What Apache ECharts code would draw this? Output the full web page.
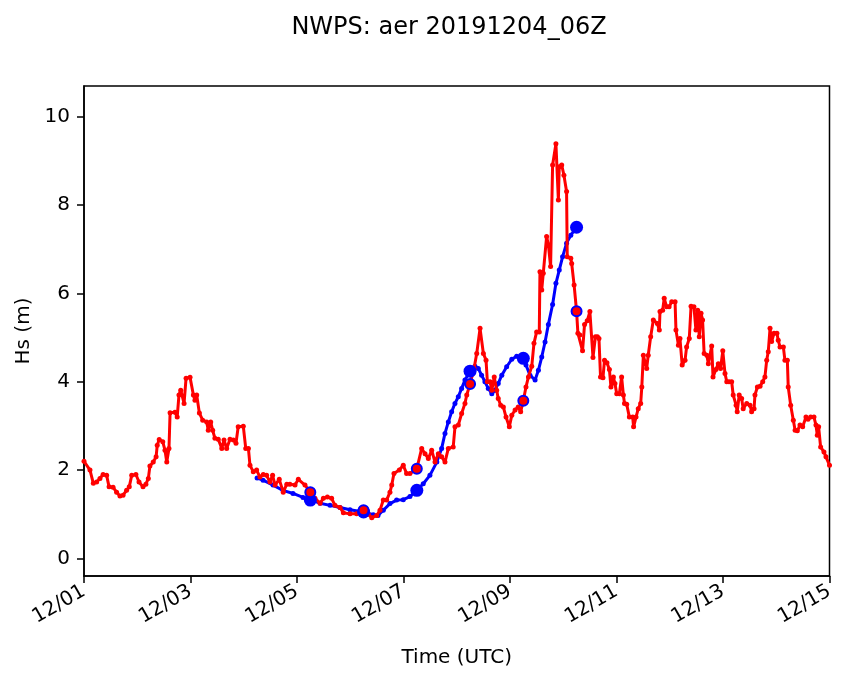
<!DOCTYPE html>
<html>
<head>
<meta charset="utf-8">
<script src="https://cdn.jsdelivr.net/npm/echarts@6/dist/echarts.min.js"></script>
<style>
html,body{margin:0;padding:0;background:#fff;}
#c{width:846px;height:681px;}
</style>
</head>
<body>
<div id="c"></div>
<script>
// Hours after 2019-12-01 00Z
var obsHours = [
0,2.7,4.2,5.7,7.2,8.6,10.2,11.3,13.1,14.7,
16.2,17.6,19.2,20.4,21.5,23.4,24.8,26.6,27.9,29.0,
29.7,31.2,32.5,33.0,33.9,35.5,36.5,37.3,38.3,38.8,
41.0,42.0,42.8,43.6,45.1,46.0,47.8,49.3,50.0,50.8,
52.0,53.5,55.3,56.0,57.1,58.0,59.0,60.5,62.1,63.1,
64.3,65.8,67.3,68.5,69.5,71.8,72.9,74.1,74.8,76.3,
77.8,79.3,80.8,82.3,83.8,85.0,86.1,88.0,89.8,91.4,
92.8,95.1,96.6,
99.6,102,104.1,106.4,107.9,109.7,111.6,113.1,115.4,116.9,
119.9,122.9,126,128.1,129.7,131.9,133.4,134.9,136.4,137.9,
138.7,139.7,142.1,143.9,145.4,146.9,150,152.2,153.7,155.2,
156.7,158.2,159.7,161.2,162.7,164.2,166.4,167.2,168.7,170.2,
171.7,172.5,174,175.8,177.0,178.5,180.0,181.2,181.8,183.0,
183.8,184.9,186.0,186.7,187.8,189.0,190.2,191.7,192.8,194.3,
195.7,196.8,198,199.2,200.3,201.8,202.8,204.0,205.2,205.5,
206.3,207.0,208.5,209.3,210.3,211.2,212.7,213.8,214.2,215.3,
216.3,217.5,217.8,219.4,219.8,220.9,222,
222.6,223.5,224.7,225.6,226.8,228.0,229.4,230.5,231.4,232.1,
232.8,233.9,234.6,235.7,236.8,237.5,238.6,239.3,240.1,241.3,
242.3,243.1,243.6,244.6,245.8,247.3,247.7,248.8,249.8,250.9,
251.4,252.1,253.6,254.3,255.4,256.6,258.4,259.3,259.6,260.8,
261.5,262.6,263.7,264.9,266.4,266.8,267.9,268.6,269.6,270.9,
271.6,272.8,273.6,274.9,275.8,276.6,277.3,278.1,278.8,279.5,
280.7,281.4,282.9,283.5,284.8,285.9,286.9,287.9,288.9,289.7,
290.7,291.9,292.6,293.9,294.4,295.3,296.4,297.1,298.7,300.2,
300.9,302.0,302.4,303.5,304.7,305.9,306.9,307.7,308.4,309.2,
309.9,311.0,312.3,312.9,313.7,315.2,315.9,317.0,317.4,318.5,
319.7,320.5,321.5,322.7,323.9,325.4,326.3,327.5,329.0,329.9,
330.5,331.1,332.0,333.5,334.4,336
];
var obsHs = [
2.20,2.00,1.70,1.73,1.81,1.90,1.88,1.62,1.61,1.50,
1.41,1.43,1.54,1.62,1.88,1.90,1.73,1.62,1.68,1.81,
2.09,2.18,2.30,2.56,2.69,2.64,2.45,2.18,2.49,3.30,
3.31,3.20,3.70,3.81,3.51,4.08,4.10,3.70,3.58,3.70,
3.29,3.13,3.09,2.90,3.09,2.90,2.72,2.70,2.49,2.68,
2.49,2.70,2.68,2.61,2.98,2.99,2.49,2.49,2.11,1.96,
2.00,1.84,1.90,1.88,1.73,1.88,1.66,1.79,1.50,1.68,
1.68,1.66,1.79,
1.66,1.50,1.36,1.25,1.36,1.39,1.36,1.20,1.15,1.03,
1.01,1.01,1.09,1.00,0.92,0.97,1.09,1.32,1.32,1.50,
1.66,1.92,2.00,2.11,1.92,1.92,2.03,2.49,2.37,2.26,
2.45,2.18,2.37,2.30,2.18,2.49,2.52,2.98,3.02,3.28,
3.51,3.70,3.95,4.30,4.64,5.21,4.64,4.49,4.00,4.00,
3.81,4.11,3.81,3.62,3.47,3.43,3.20,2.98,3.24,3.36,
3.43,3.32,3.57,3.88,4.11,4.35,4.87,5.13,5.13,6.49,
6.08,6.46,7.29,7.10,6.61,8.91,9.39,8.12,8.87,8.91,
8.68,8.31,6.83,6.80,6.68,6.19,5.60,
5.10,5.06,4.70,5.30,5.38,5.59,4.55,5.02,5.02,4.98,
4.11,4.09,4.49,4.43,4.28,3.88,4.11,3.96,3.73,3.73,
4.11,3.70,3.51,3.49,3.20,3.20,2.98,3.20,3.39,3.51,
3.88,4.60,4.30,4.60,5.02,5.40,5.32,5.17,5.59,5.62,
5.89,5.70,5.70,5.81,5.81,5.17,4.83,4.98,4.38,4.49,
4.79,4.98,5.71,5.70,5.17,5.62,5.02,5.55,5.40,4.64,
4.60,4.41,4.81,4.11,4.28,4.41,4.30,4.70,4.19,4.00,
4.00,4.00,3.70,3.47,3.32,3.70,3.62,3.39,3.51,3.47,
3.32,3.39,3.70,3.88,3.90,4.00,4.11,4.49,4.68,5.21,
4.91,5.10,5.10,4.94,4.79,4.79,4.49,4.49,3.88,3.47,
3.13,2.90,2.89,3.02,2.98,3.20,3.15,3.20,3.20,3.02,
2.79,2.98,2.52,2.41,2.30,2.11
];
var modelHours = [
78,80.7,85.2,89.7,94.2,98.7,102,106.4,110.9,115.4,
119.9,126,130.4,132.5,134.9,137.9,140.9,143.9,146.9,150,
152.9,155.9,159.0,161.2,162.7,164.2,165.7,167.2,168.7,170.2,
171.7,174,176.2,177.7,179.2,180.7,182.2,183.8,185.2,186.7,
188.3,190.5,192.8,195.0,198,199.2,201.0,203.3,204.8,206.3,
207.8,209.3,211.2,212.7,214.2,215.7,217.5,219.4,222
];
var modelHs = [
1.82,1.77,1.66,1.54,1.47,1.38,1.32,1.25,1.20,1.15,
1.10,1.05,0.99,0.97,1.09,1.24,1.32,1.33,1.40,1.54,
1.69,1.88,2.18,2.49,2.83,3.09,3.32,3.51,3.66,3.85,
4.04,4.24,4.35,4.30,4.15,4.00,3.85,3.73,3.81,3.96,
4.15,4.34,4.51,4.58,4.53,4.38,4.15,4.04,4.26,4.56,
4.90,5.30,5.75,6.23,6.53,6.83,7.14,7.32,7.50
];
var matchHours = [102,126,150,174,198,222];
var matchModel = [1.32,1.05,1.54,4.24,4.53,7.50];
var matchObs = [1.50,1.09,2.03,3.95,3.57,5.60];
var yTicks = [0,2,4,6,8,10];
var titleText = 'NWPS: aer 20191204_06Z';

var T0 = Date.UTC(2019,11,1,0,0,0);
function pairs(hs, vs){ var out=[]; var n=Math.min(hs.length, vs.length); for(var i=0;i<n;i++){ out.push([hs[i], vs[i]]); } return out; }
function pad(n){ return (n<10?'0':'')+n; }
function hourLabel(h){ var d=new Date(T0 + h*3600000); return pad(d.getUTCMonth()+1)+'/'+pad(d.getUTCDate()); }

var font = 'DejaVu Sans';
var chart = echarts.init(document.getElementById('c'), null, {renderer:'canvas'});
chart.setOption({
  animation:false,
  backgroundColor:'#fff',
  title:{
    text:titleText, left:444, top:11, textAlign:'center',
    textStyle:{fontFamily:font, fontSize:24, fontWeight:'normal', color:'#000'}
  },
  grid:{left:84, right:16.5, top:86, bottom:105, show:true, borderColor:'#000', borderWidth:1.5, backgroundColor:'transparent'},
  xAxis:{
    type:'value', min:0, max:336, interval:48,
    name:'Time (UTC)', nameLocation:'middle', nameGap:72,
    nameTextStyle:{fontFamily:font, fontSize:20, color:'#000'},
    axisLine:{show:true, onZero:false, lineStyle:{color:'#000', width:1.5}},
    axisTick:{show:true, length:7, inside:false, lineStyle:{color:'#000', width:1.5}},
    axisLabel:{
      rotate:30, margin:14, showMinLabel:true, showMaxLabel:true,
      fontFamily:font, fontSize:20, color:'#000',
      formatter:function(v){ return hourLabel(v); }
    },
    splitLine:{show:false}
  },
  yAxis:{
    type:'value', min:-0.40, max:10.70,
    name:'Hs (m)', nameLocation:'middle', nameGap:50, nameRotate:90,
    nameTextStyle:{fontFamily:font, fontSize:20, color:'#000'},
    axisLine:{show:true, lineStyle:{color:'#000', width:1.5}},
    axisTick:{show:true, length:7, lineStyle:{color:'#000', width:1.5}, customValues:yTicks},
    axisLabel:{customValues:yTicks, margin:14, fontFamily:font, fontSize:20, color:'#000'},
    splitLine:{show:false}
  },
  series:[
    {
      type:'line', name:'model', data:pairs(modelHours, modelHs), z:2,
      showSymbol:true, showAllSymbol:true, symbol:'circle', symbolSize:5,
      lineStyle:{color:'#0000ff', width:3}, itemStyle:{color:'#0000ff'}
    },
    {
      type:'line', name:'obs', data:pairs(obsHours, obsHs), z:3,
      showSymbol:true, showAllSymbol:true, symbol:'circle', symbolSize:5,
      lineStyle:{color:'#ff0000', width:3}, itemStyle:{color:'#ff0000'}
    },
    {
      type:'scatter', name:'modelMatch', data:pairs(matchHours, matchModel), z:4,
      symbol:'circle', symbolSize:13, itemStyle:{color:'#0000ff', opacity:1}
    },
    {
      type:'scatter', name:'obsMatch', data:pairs(matchHours, matchObs), z:5,
      symbol:'circle', symbolSize:10, itemStyle:{color:'#ff0000', borderColor:'#0000ff', borderWidth:2, opacity:1}
    }
  ]
});
</script>
</body>
</html>
